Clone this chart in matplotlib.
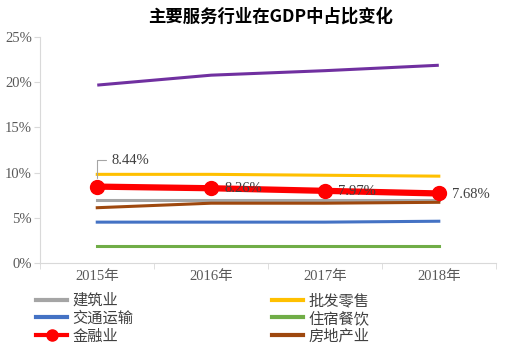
import matplotlib
matplotlib.use("Agg")
import matplotlib.pyplot as plt

years = ["2015年", "2016年", "2017年", "2018年"]
other = [19.7, 20.8, 21.3, 21.9]          # purple series (not in legend)
construction = [6.9, 6.9, 6.9, 6.9]       # 建筑业
wholesale = [9.8, 9.8, 9.7, 9.6]          # 批发零售
transport = [4.5, 4.5, 4.5, 4.6]          # 交通运输
hospitality = [1.8, 1.8, 1.8, 1.8]        # 住宿餐饮
finance = [8.44, 8.26, 7.97, 7.68]        # 金融业
realestate = [6.1, 6.6, 6.6, 6.7]         # 房地产业
yticks = [0, 5, 10, 15, 20, 25]
ylabels = ["0%", "5%", "10%", "15%", "20%", "25%"]

CJK = ["Noto Sans CJK SC", "DejaVu Sans"]
SERIF = ["Liberation Serif", "Noto Sans CJK SC"]

fig = plt.figure(figsize=(5.06, 3.54), dpi=100)
ax = fig.add_axes([0.0797, 0.2579, 0.9, 0.6367])

x = list(range(len(years)))
ax.plot(x, other, color="#7030A0", lw=2.2, solid_capstyle="butt")
l1, = ax.plot(x, construction, color="#A5A5A5", lw=2.2, label="建筑业")
l2, = ax.plot(x, wholesale, color="#FFC000", lw=2.2, label="批发零售")
l3, = ax.plot(x, transport, color="#4472C4", lw=2.2, label="交通运输")
l4, = ax.plot(x, hospitality, color="#70AD47", lw=2.2, label="住宿餐饮")
l6, = ax.plot(x, realestate, color="#9E480E", lw=2.2, label="房地产业")
l5, = ax.plot(x, finance, color="#FF0000", lw=4.5, marker="o", ms=10, label="金融业", zorder=5)

for i, v in enumerate(finance):
    txt = f"{v:.2f}%"
    if i == 0:
        ax.annotate(txt, xy=(i, v), xytext=(10, 19), textcoords="offset points",
                    ha="left", va="center", fontsize=10.5, color="#404040",
                    family=SERIF, zorder=6,
                    arrowprops=dict(arrowstyle="-", color="#A5A5A5", lw=0.8,
                                    connectionstyle="angle,angleA=0,angleB=90,rad=0",
                                    shrinkA=2, shrinkB=6, relpos=(0, 0.5)))
    else:
        ax.annotate(txt, xy=(i, v), xytext=(9.5, -0.5), textcoords="offset points",
                    ha="left", va="center", fontsize=10.5, color="#404040",
                    family=SERIF, zorder=6)

ax.set_xlim(-0.5, 3.5)
ax.set_ylim(0, 25)
ax.set_yticks(yticks)
ax.set_yticklabels(ylabels, family=SERIF, fontsize=10.5, color="#595959")
ax.set_xticks(x)
ax.set_xticklabels(years, family=SERIF, fontsize=10.5, color="#595959")
ax.set_xticks([-0.5, 0.5, 1.5, 2.5, 3.5], minor=True)
ax.tick_params(axis="x", which="major", length=0, pad=5)
ax.tick_params(axis="x", which="minor", length=4, color="#D9D9D9")
ax.tick_params(axis="y", length=4, color="#D9D9D9", pad=2)
for s in ["top", "right"]:
    ax.spines[s].set_visible(False)
for s in ["left", "bottom"]:
    ax.spines[s].set_color("#D9D9D9")

fig.text(0.534, 0.952, "主要服务行业在GDP中占比变化", ha="center", va="center",
         fontsize=12.5, fontweight="bold", family=CJK, color="#000000")

leg = fig.legend(handles=[l1, l3, l5, l2, l4, l6], loc="upper left",
                 bbox_to_anchor=(0.072, 0.175), ncol=2, frameon=False,
                 prop=dict(family=CJK, size=11), labelcolor="#404040",
                 handlelength=2.0, handletextpad=0.35, labelspacing=0.05,
                 columnspacing=9.1, borderpad=0, borderaxespad=0)
for h in leg.legend_handles:
    h.set_linewidth(3)
leg.legend_handles[2].set_markersize(8)

fig.savefig("out.png", dpi=100)
